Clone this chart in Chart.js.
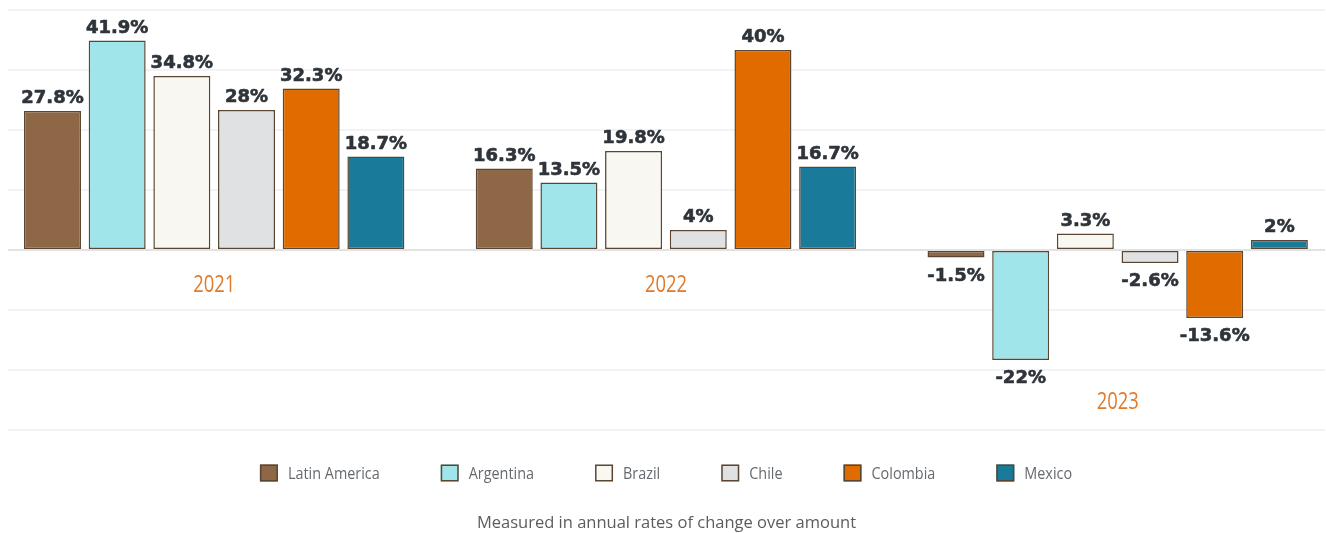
<!DOCTYPE html>
<html>
<head>
<meta charset="utf-8">
<title>Annual rates of change</title>
<script src="https://cdn.jsdelivr.net/npm/chart.js@4.4.0/dist/chart.umd.min.js"></script>
<style>
    html, body { margin: 0; padding: 0; background: #fff; }
    #wrap { position: relative; width: 1326px; height: 533px; }
</style>
</head>
<body>
<div id="wrap"><canvas id="growthChart"></canvas></div>
<script>
// Categories and series (annual % change)
const years = ['2021', '2022', '2023'];
const latinAmerica = [27.8, 16.3, -1.5];
const argentina = [41.9, 13.5, -22];
const brazil = [34.8, 19.8, 3.3];
const chile = [28, 4, -2.6];
const colombia = [32.3, 40, -13.6];
const mexico = [18.7, 16.7, 2];

// Value axis gridline positions
const yTicks = [-36, -24, -12, 0, 12, 24, 36, 48];

const subtitleText = 'Measured in annual rates of change over amount';

const series = [
    { name: 'Latin America', values: latinAmerica, color: '#8e6747' },
    { name: 'Argentina', values: argentina, color: '#a0e5ea' },
    { name: 'Brazil', values: brazil, color: '#f8f7f2' },
    { name: 'Chile', values: chile, color: '#e0e1e3' },
    { name: 'Colombia', values: colombia, color: '#e06c00' },
    { name: 'Mexico', values: mexico, color: '#1a7a9a' }
];

const BORDER = '#5a4632';
const LABEL_FONT = 'bold 18px "DejaVu Sans"';
const SOFT_FONT = '"Open Sans", "DejaVu Sans", sans-serif';

// draws text squeezed horizontally (narrow look)
const squeezedText = (ctx, text, x, y, sx) => {
    ctx.save();
    ctx.translate(x, y);
    ctx.scale(sx, 1);
    ctx.fillText(text, 0, 0);
    ctx.restore();
};

// value labels above / below each bar
const valueLabels = {
    id: 'valueLabels',
    afterDatasetsDraw(chart) {
        const ctx = chart.ctx;
        ctx.save();
        ctx.font = LABEL_FONT;
        ctx.fillStyle = '#2e343a';
        ctx.strokeStyle = '#2e343a';
        ctx.lineWidth = 0.6;
        ctx.lineJoin = 'round';
        ctx.textAlign = 'center';
        ctx.textBaseline = 'alphabetic';
        chart.data.datasets.forEach((ds, di) => {
            chart.getDatasetMeta(di).data.forEach((bar, i) => {
                const v = series[di].values[i];
                const y = v < 0 ? bar.y + 23 : bar.y - 8;
                ctx.fillText(v + '%', bar.x, y);
                ctx.strokeText(v + '%', bar.x, y);
            });
        });
        ctx.restore();
    }
};

// year labels sit under the lowest mark of each group
const yearLabels = {
    id: 'yearLabels',
    afterDatasetsDraw(chart) {
        const ctx = chart.ctx;
        const xScale = chart.scales.x;
        const yScale = chart.scales.y;
        const zero = yScale.getPixelForValue(0);
        ctx.save();
        ctx.font = '23px ' + SOFT_FONT;
        ctx.fillStyle = '#e07b2c';
        ctx.textAlign = 'center';
        ctx.textBaseline = 'alphabetic';
        years.forEach((year, i) => {
            let base = zero + 42;
            series.forEach(s => {
                const v = s.values[i];
                if (v < 0) {
                    base = Math.max(base, yScale.getPixelForValue(v) + 23 + 26);
                }
            });
            squeezedText(ctx, year, xScale.getPixelForValue(i), base, 0.8);
        });
        ctx.restore();
    }
};

// legend row under the plot
const legendRow = {
    id: 'legendRow',
    afterDraw(chart) {
        const ctx = chart.ctx;
        const sx = 0.9;
        const boxW = 18, boxH = 17, textGap = 10, itemGap = 61;
        const cy = 473;
        ctx.save();
        ctx.font = '16px ' + SOFT_FONT;
        const widths = series.map(s => ctx.measureText(s.name).width * sx);
        const total = widths.reduce((a, w) => a + boxW + textGap + w, 0) + itemGap * (series.length - 1);
        let x = chart.width / 2 + 3 - total / 2;
        series.forEach((s, i) => {
            ctx.fillStyle = s.color;
            ctx.fillRect(x, cy - boxH / 2, boxW, boxH);
            ctx.strokeStyle = BORDER;
            ctx.lineWidth = 1.5;
            ctx.strokeRect(x + 0.75, cy - boxH / 2 + 0.75, boxW - 1.5, boxH - 1.5);
            ctx.fillStyle = '#666a6e';
            ctx.textAlign = 'left';
            ctx.textBaseline = 'middle';
            squeezedText(ctx, s.name, x + boxW + textGap, cy + 1, sx);
            x += boxW + textGap + widths[i] + itemGap;
        });
        ctx.restore();
    }
};

const ctx = document.getElementById('growthChart');

new Chart(ctx, {
    type: 'bar',
    data: {
        datasets: series.map(s => ({
            label: s.name,
            data: s.values.map((v, i) => ({ x: i, y: v })),
            backgroundColor: s.color,
            borderColor: BORDER,
            borderWidth: 1.5,
            borderSkipped: false,
            categoryPercentage: 0.859,
            barPercentage: 0.881
        }))
    },
    options: {
        responsive: true,
        maintainAspectRatio: false,
        animation: false,
        layout: {
            padding: { top: 10, left: 8, right: 1, bottom: 0 }
        },
        plugins: {
            legend: { display: false },
            tooltip: { enabled: false },
            subtitle: {
                display: true,
                text: subtitleText,
                position: 'bottom',
                color: '#5a5d60',
                font: { family: SOFT_FONT, size: 16.5, weight: 'normal' },
                padding: { top: 83.2, bottom: 0 }
            }
        },
        scales: {
            x: {
                type: 'linear',
                display: false,
                offset: false,
                min: -0.4564,
                max: 2.4589,
                afterBuildTicks: (scale) => {
                    scale.ticks = years.map((_, i) => ({ value: i }));
                }
            },
            y: {
                min: yTicks[0],
                max: yTicks[yTicks.length - 1],
                afterBuildTicks: (scale) => {
                    scale.ticks = yTicks.map(v => ({ value: v }));
                },
                ticks: { display: false },
                border: { display: false },
                grid: {
                    drawTicks: false,
                    lineWidth: 2,
                    color: (c) => c.tick && c.tick.value === 0 ? '#e2e2e2' : '#f3f3f3'
                }
            }
        }
    },
    plugins: [valueLabels, yearLabels, legendRow]
});
</script>
</body>
</html>
